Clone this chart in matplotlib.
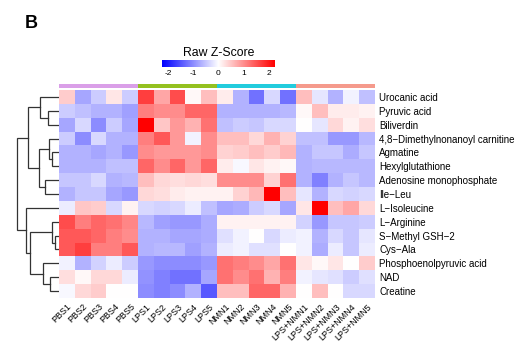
import numpy as np
import matplotlib
matplotlib.use("Agg")
import matplotlib.pyplot as plt
from matplotlib.colors import LinearSegmentedColormap, ListedColormap

plt.rcParams['font.family'] = ['Liberation Sans', 'DejaVu Sans']

metabolites = ["Urocanic acid", "Pyruvic acid", "Biliverdin",
               "4,8\u2212Dimethylnonanoyl carnitine", "Agmatine", "Hexylglutathione",
               "Adenosine monophosphate", "Ile\u2212Leu", "L\u2212Isoleucine", "L\u2212Arginine",
               "S\u2212Methyl GSH\u22122", "Cys\u2212Ala", "Phosphoenolpyruvic acid", "NAD", "Creatine"]
samples = ["PBS1", "PBS2", "PBS3", "PBS4", "PBS5",
           "LPS1", "LPS2", "LPS3", "LPS4", "LPS5",
           "NMN1", "NMN2", "NMN3", "NMN4", "NMN5",
           "LPS+NMN1", "LPS+NMN2", "LPS+NMN3", "LPS+NMN4", "LPS+NMN5"]
groups = ["PBS"] * 5 + ["LPS"] * 5 + ["NMN"] * 5 + ["LPS+NMN"] * 5
group_colors = {"PBS": "#DA9FE8", "LPS": "#94C11F", "NMN": "#22CCDD", "LPS+NMN": "#F59A8C"}

zscores = np.array([
    [0.4, -0.7, -0.4, 0.2, -0.4,   1.5, 0.7, 1.4, 0.05, 0.5,   0.15, -0.6, -1.1, -0.3, -1.1,   0.5, -0.2, -0.6, -0.1, -0.5],
    [-0.4, -0.5, -0.6, -0.6, -0.75, 1.0, 0.9, 0.9, 1.2, 1.2,   -0.6, -0.6, -0.6, -0.6, -0.55,  0.05, 0.5, 0.15, 0.15, 0.1],
    [-0.7, -0.3, -0.9, -0.4, -0.7,  2.0, 0.45, 0.8, 0.6, 1.1,  -0.5, -0.4, -0.45, -0.3, -0.3,   0.0, -0.2, 0.3, 0.1, 0.25],
    [-0.4, -0.9, -0.3, -0.6, -0.6,  1.0, 1.3, 0.8, -0.1, 0.9,  0.5, 0.5, 0.3, 0.6, 0.35,      -0.5, -0.5, -0.8, -0.8, -0.55],
    [-0.6, -0.6, -0.7, -0.6, -0.8,  0.9, 0.8, 0.8, 0.8, 0.9,   0.35, 0.4, 0.5, 0.4, 0.55,     -0.6, -0.45, -0.45, -0.65, -0.45],
    [-0.6, -0.6, -0.6, -0.5, -0.5,  1.2, 0.9, 1.2, 0.8, 1.2,   0.15, -0.05, 0.2, 0.1, 0.05,   -0.6, -0.55, -0.55, -0.55, -0.55],
    [-0.45, -0.45, -0.3, -0.6, -0.55, 0.5, 0.3, 0.25, 0.3, 0.25, 0.9, 0.9, 0.9, 0.35, 1.1,    -0.6, -1.0, -0.6, -0.45, -0.55],
    [-0.6, -0.45, -0.45, -0.7, -0.8, 0.3, 0.25, 0.15, 0.1, 0.1, 0.1, 0.35, 0.55, 2.2, 0.5,    -0.2, -0.6, -0.3, -0.35, -0.3],
    [-0.15, 0.45, 0.4, -0.3, 0.1,  -0.3, -0.35, -0.3, -0.15, -0.5, -0.7, -0.65, -0.4, -0.3, -0.7, 0.2, 2.2, 0.5, 0.7, 0.3],
    [1.4, 1.0, 1.2, 1.1, 0.95,     -0.55, -0.75, -0.8, -0.8, -0.65, 0.1, 0.1, 0.1, 0.1, 0.1,   -0.35, -0.8, -0.45, -0.45, -0.4],
    [1.3, 1.3, 1.2, 1.0, 0.9,      -0.6, -0.6, -0.7, -0.7, -0.65, -0.25, -0.1, 0.0, -0.3, -0.15, -0.1, -0.6, -0.3, -0.45, -0.2],
    [1.3, 1.5, 1.0, 1.0, 1.3,      -0.6, -0.55, -0.55, -0.75, -0.6, -0.15, -0.1, -0.25, -0.25, 0.0, -0.1, -0.65, -0.15, -0.45, -0.15],
    [-0.1, -0.6, -0.35, -0.15, -0.4, -0.8, -0.9, -0.9, -0.9, -0.8, 1.1, 1.0, 0.9, 0.7, 1.1,   0.2, 0.05, 0.2, 0.0, 0.4],
    [0.25, 0.05, 0.3, 0.3, -0.15,  -0.85, -1.0, -1.1, -1.1, -0.7, 1.1, 0.9, 1.1, 0.6, 1.0,    -0.1, -0.2, -0.25, -0.4, -0.25],
    [-0.05, 0.3, 0.4, 0.0, 0.0,    -0.9, -1.0, -0.9, -0.6, -1.3, 0.5, 0.5, 1.2, 1.2, 0.6,     0.0, 0.5, 0.0, -0.3, -0.3],
])

# row dendrogram merges: (child_a, child_b, height); new cluster ids start at 15
merges = [(1, 2, 30), (0, 15, 55), (4, 5, 20), (3, 17, 28), (6, 7, 40), (18, 19, 57),
          (16, 20, 90), (10, 11, 10), (9, 22, 20), (13, 14, 25), (12, 24, 45),
          (23, 25, 85), (8, 26, 97), (21, 27, 125)]

W, H = 518, 360
fig = plt.figure(figsize=(W / 100, H / 100), dpi=100)

def ax_px(x0, y0, x1, y1):
    return fig.add_axes([x0 / W, 1 - y1 / H, (x1 - x0) / W, (y1 - y0) / H])

cmap = LinearSegmentedColormap.from_list("bwr2", ["#0000FF", "#FFFFFF", "#FF0000"])
nr, nc = zscores.shape

hx0, hx1, hy0, hy1 = 59, 375, 90, 298
ax = ax_px(hx0, hy0, hx1, hy1)
ax.imshow(zscores, cmap=cmap, vmin=-2, vmax=2, aspect="auto", interpolation="nearest")
ax.set_xlim(-0.5, nc - 0.5)
ax.set_ylim(nr - 0.5, -0.5)
for s in ax.spines.values():
    s.set_visible(False)
ax.yaxis.tick_right()
ax.set_yticks(range(nr))
ax.set_yticklabels(metabolites, fontsize=7)
ax.set_xticks(range(nc))
ax.set_xticklabels(samples, fontsize=6.5, rotation=45, ha="right", va="top", rotation_mode="anchor")
ax.tick_params(length=0, pad=3)

# column group bar
cax = ax_px(hx0, 84, hx1, 88)
gnames = list(group_colors.keys())
gidx = np.array([[gnames.index(g) for g in groups]])
cax.imshow(gidx, cmap=ListedColormap([group_colors[g] for g in gnames]), vmin=-0.5, vmax=3.5,
           aspect="auto", interpolation="nearest")
cax.set_axis_off()

# dendrogram
dax = ax_px(14, hy0, hx0 - 0.5, hy1)
pos = {i: i for i in range(nr)}
hts = {i: 0.0 for i in range(nr)}
nid = nr
for a, b, h in merges:
    ya, yb = pos[a], pos[b]
    dax.plot([hts[a], h, h, hts[b]], [ya, ya, yb, yb], color="#333333", lw=0.9,
             solid_joinstyle="miter")
    pos[nid] = (ya + yb) / 2
    hts[nid] = h
    nid += 1
dax.set_xlim(133, 0)
dax.set_ylim(nr - 0.5, -0.5)
dax.set_axis_off()

# colour key
kax = ax_px(162, 60, 275, 67)
grad = np.linspace(-2, 2, 256)[None, :]
kax.imshow(grad, cmap=cmap, vmin=-2, vmax=2, aspect="auto", extent=[-2.25, 2.25, 0, 1])
kax.set_yticks([])
kax.set_xticks([-2, -1, 0, 1, 2])
kax.set_xticklabels(["-2", "-1", "0", "1", "2"], fontsize=6)
kax.tick_params(axis="x", length=0, pad=2)
for s in kax.spines.values():
    s.set_visible(False)
kax.set_title("Raw Z-Score", fontsize=8.8, pad=3)

fig.text(25 / W, 1 - 24 / H, "B", fontsize=13, fontweight="bold", va="center", ha="left")

fig.savefig("out.png", dpi=100)
